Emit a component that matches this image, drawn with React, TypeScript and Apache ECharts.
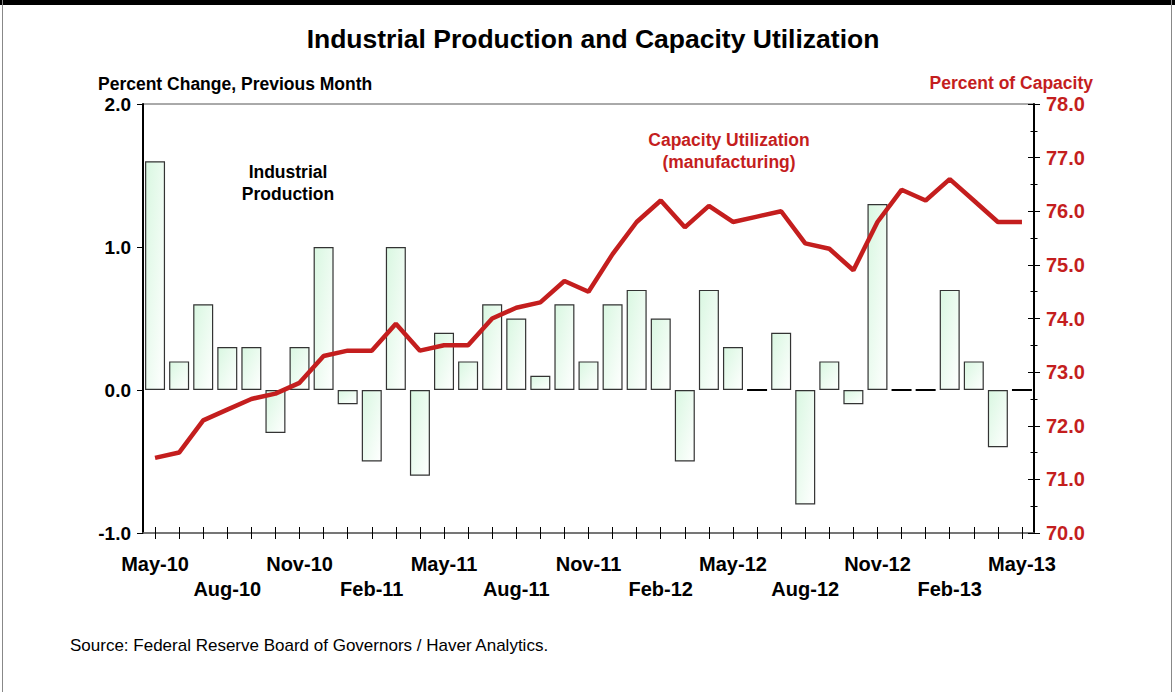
import React, { useEffect, useRef } from "react";
import * as echarts from "echarts";

const months: string[] = [
  "May-10", "Jun-10", "Jul-10", "Aug-10", "Sep-10", "Oct-10", "Nov-10", "Dec-10",
  "Jan-11", "Feb-11", "Mar-11", "Apr-11", "May-11", "Jun-11", "Jul-11", "Aug-11",
  "Sep-11", "Oct-11", "Nov-11", "Dec-11", "Jan-12", "Feb-12", "Mar-12", "Apr-12",
  "May-12", "Jun-12", "Jul-12", "Aug-12", "Sep-12", "Oct-12", "Nov-12", "Dec-12",
  "Jan-13", "Feb-13", "Mar-13", "Apr-13", "May-13",
];

const industrialProduction: number[] = [
  1.6, 0.2, 0.6, 0.3, 0.3, -0.3, 0.3, 1.0,
  -0.1, -0.5, 1.0, -0.6, 0.4, 0.2, 0.6, 0.5,
  0.1, 0.6, 0.2, 0.6, 0.7, 0.5, -0.5, 0.7,
  0.3, 0.0, 0.4, -0.8, 0.2, -0.1, 1.3, 0.0,
  0.0, 0.7, 0.2, -0.4, 0.0,
];

const capacityUtilization: number[] = [
  71.4, 71.5, 72.1, 72.3, 72.5, 72.6, 72.8, 73.3,
  73.4, 73.4, 73.9, 73.4, 73.5, 73.5, 74.0, 74.2,
  74.3, 74.7, 74.5, 75.2, 75.8, 76.2, 75.7, 76.1,
  75.8, 75.9, 76.0, 75.4, 75.3, 74.9, 75.8, 76.4,
  76.2, 76.6, 76.2, 75.8, 75.8,
];

const leftTickMin = -1;
const leftTickMax = 2;
const rightTickMin = 70;
const rightTickMax = 78;

const FONT = "'Liberation Sans', Arial, Helvetica, sans-serif";
const RED = "#c41e1e";

export default function App() {
  const ref = useRef<HTMLDivElement>(null);

  useEffect(() => {
    if (!ref.current) return;
    const chart = echarts.init(ref.current, undefined, { renderer: "svg" });
    const labelStyle = { fontFamily: FONT, fontWeight: "bold" as const };
    const barData = industrialProduction.map((v) =>
      v === 0 ? { value: v, itemStyle: { borderColor: "#000", borderWidth: 2 } } : v
    );
    chart.setOption({
      animation: false,
      backgroundColor: "#ffffff",
      textStyle: { fontFamily: FONT },
      grid: {
        left: 143,
        right: 141,
        top: 104,
        bottom: 159,
        show: true,
        borderColor: "#555",
        borderWidth: 1,
        backgroundColor: "transparent",
      },
      xAxis: [
        {
          type: "category",
          data: months,
          boundaryGap: true,
          axisLine: { show: true, onZero: false, lineStyle: { color: "#666", width: 1.5 } },
          axisTick: { show: true, length: 6, interval: 0, alignWithLabel: true, lineStyle: { color: "#000", width: 1 } },
          axisLabel: {
            ...labelStyle,
            fontSize: 20,
            interval: 2,
            margin: 18,
            color: "#000",
            lineHeight: 25,
            formatter: (v: string, i: number) => (Math.floor(i / 3) % 2 === 1 ? "\n" + v : v),
          },
          splitLine: { show: false },
        },
        {
          type: "category",
          data: months,
          position: "bottom",
          boundaryGap: true,
          axisLine: { show: false, onZero: false },
          axisTick: { show: true, inside: true, length: 6, interval: 0, alignWithLabel: true, lineStyle: { color: "#000", width: 1 } },
          axisLabel: { show: false },
          splitLine: { show: false },
        },
      ],
      yAxis: [
        {
          type: "value",
          min: leftTickMin,
          max: leftTickMax,
          interval: 1,
          position: "left",
          axisLine: { show: true, lineStyle: { color: "#000", width: 2 } },
          axisTick: { show: true, length: 6, lineStyle: { color: "#000" } },
          axisLabel: {
            ...labelStyle,
            fontSize: 19,
            margin: 12,
            color: "#000",
            formatter: (v: number) => v.toFixed(1),
          },
          splitLine: { show: false },
        },
        {
          type: "value",
          min: rightTickMin,
          max: rightTickMax,
          interval: 1,
          position: "right",
          axisLine: { show: true, lineStyle: { color: "#000", width: 2 } },
          axisTick: { show: true, length: 6, lineStyle: { color: "#000" } },
          minorTick: { show: true, splitNumber: 2, length: 3.5, lineStyle: { color: "#000" } },
          axisLabel: {
            ...labelStyle,
            fontSize: 20,
            margin: 12,
            color: RED,
            formatter: (v: number) => v.toFixed(1),
          },
          splitLine: { show: false },
        },
        {
          type: "value",
          min: rightTickMin,
          max: rightTickMax,
          interval: 1,
          position: "right",
          axisLine: { show: false },
          axisTick: { show: true, inside: true, length: 6, lineStyle: { color: "#000" } },
          minorTick: { show: true, splitNumber: 2, length: 3.5, lineStyle: { color: "#000" } },
          axisLabel: { show: false },
          splitLine: { show: false },
        },
      ],
      series: [
        {
          name: "Industrial Production",
          type: "bar",
          xAxisIndex: 0,
          yAxisIndex: 0,
          data: barData,
          barWidth: 20,
          itemStyle: {
            color: new echarts.graphic.LinearGradient(0, 0, 1, 1, [
              { offset: 0, color: "#d9f7e1" },
              { offset: 1, color: "#ffffff" },
            ]),
            borderColor: "#333",
            borderWidth: 1.2,
          },
          z: 2,
        },
        {
          name: "Capacity Utilization",
          type: "line",
          xAxisIndex: 0,
          yAxisIndex: 1,
          data: capacityUtilization,
          symbol: "none",
          lineStyle: { color: RED, width: 4.5 },
          z: 5,
        },
      ],
      graphic: [
        { type: "rect", left: 0, top: 0, shape: { width: 1175, height: 5 }, style: { fill: "#000" } },
        { type: "rect", left: 2, top: 0, shape: { width: 1, height: 692 }, style: { fill: "#888" } },
        { type: "rect", left: 1171, top: 0, shape: { width: 1, height: 692 }, style: { fill: "#888" } },
        {
          type: "text",
          x: 593,
          y: 39,
          style: {
            text: "Industrial Production and Capacity Utilization",
            font: `bold 26.5px ${FONT}`,
            fill: "#000",
            align: "center",
            verticalAlign: "middle",
          },
        },
        {
          type: "text",
          x: 98,
          y: 84,
          style: {
            text: "Percent Change, Previous Month",
            font: `bold 17.5px ${FONT}`,
            fill: "#000",
            align: "left",
            verticalAlign: "middle",
          },
        },
        {
          type: "text",
          x: 1093,
          y: 83,
          style: {
            text: "Percent of Capacity",
            font: `bold 17.5px ${FONT}`,
            fill: RED,
            align: "right",
            verticalAlign: "middle",
          },
        },
        {
          type: "text",
          x: 288,
          y: 183,
          style: {
            text: "Industrial\nProduction",
            font: `bold 17.5px ${FONT}`,
            fill: "#000",
            align: "center",
            verticalAlign: "middle",
            lineHeight: 22,
          },
        },
        {
          type: "text",
          x: 729,
          y: 151,
          style: {
            text: "Capacity Utilization\n(manufacturing)",
            font: `bold 17.5px ${FONT}`,
            fill: RED,
            align: "center",
            verticalAlign: "middle",
            lineHeight: 22,
          },
        },
        {
          type: "text",
          x: 70,
          y: 645,
          style: {
            text: "Source: Federal Reserve Board of Governors / Haver Analytics.",
            font: `17px ${FONT}`,
            fill: "#000",
            align: "left",
            verticalAlign: "middle",
          },
        },
      ],
    });
    return () => chart.dispose();
  }, []);

  return <div ref={ref} style={{ width: 1175, height: 692, position: "absolute", left: 0, top: 0 }} />;
}
